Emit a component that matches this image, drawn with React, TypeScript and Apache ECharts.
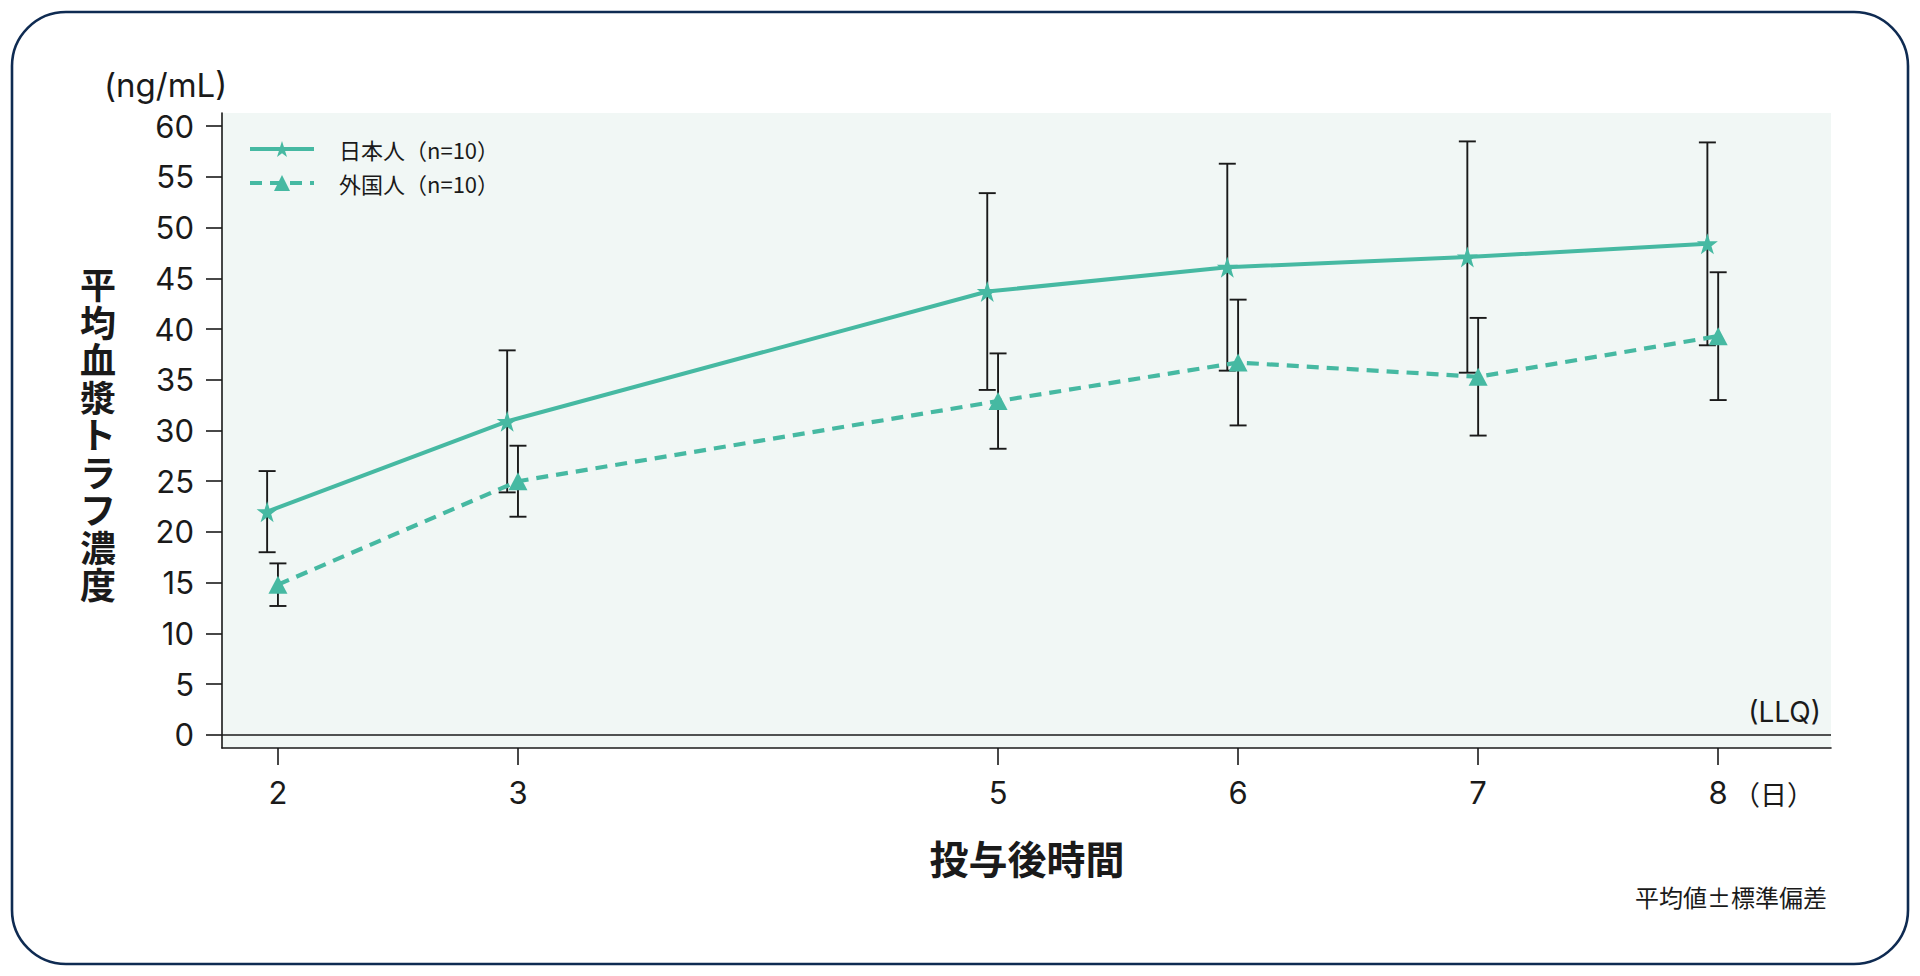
import React, { useEffect, useRef } from "react";
import * as echarts from "echarts";

// ---- data ----
const days = [2, 3, 5, 6, 7, 8];
const jpMean = [22.0, 30.9, 43.7, 46.1, 47.1, 48.4];
const jpSD = [4.0, 7.0, 9.7, 10.2, 11.4, 10.0];
const fgMean = [14.8, 25.0, 32.9, 36.7, 35.3, 39.3];
const fgSD = [2.1, 3.5, 4.7, 6.2, 5.8, 6.3];
const xTicks = [2, 3, 5, 6, 7, 8];
const yTicks = [0, 5, 10, 15, 20, 25, 30, 35, 40, 45, 50, 55, 60];
const seriesNames = ["日本人（n=10）", "外国人（n=10）"];
const yName = ["平", "均", "血", "漿", "ト", "ラ", "フ", "濃", "度"];

const TEAL = "#46b9a2";
const INK = "#1a1a1a";
const LATIN = "Inter, 'Noto Sans CJK JP', sans-serif";
const CJK = "'Noto Sans CJK JP', sans-serif";
const JP_SHIFT = -0.045;

function errorSeries(xs: number[], means: number[], sds: number[], z: number) {
  return {
    type: "custom",
    z,
    silent: true,
    data: xs.map((x, i) => [x, means[i] - sds[i], means[i] + sds[i]]),
    encode: { x: 0, y: [1, 2] },
    renderItem: (_p: any, api: any) => {
      const x = api.value(0);
      const top = api.coord([x, api.value(2)]);
      const bot = api.coord([x, api.value(1)]);
      const hw = 8.5;
      const st = { stroke: INK, lineWidth: 1.9 };
      return {
        type: "group",
        children: [
          { type: "line", shape: { x1: top[0], y1: top[1], x2: bot[0], y2: bot[1] }, style: st },
          { type: "line", shape: { x1: top[0] - hw, y1: top[1], x2: top[0] + hw, y2: top[1] }, style: st },
          { type: "line", shape: { x1: bot[0] - hw, y1: bot[1], x2: bot[0] + hw, y2: bot[1] }, style: st },
        ],
      };
    },
  };
}

export default function App() {
  const ref = useRef<HTMLDivElement>(null);
  useEffect(() => {
    if (!ref.current) return;
    const chart = echarts.init(ref.current, null, { renderer: "svg" });
    const jpX = days.map((d) => d + JP_SHIFT);
    const nameTexts = yName.map((ch, i) => ({
      type: "text",
      x: 98,
      y: 283 + i * 37.5,
      style: {
        text: ch,
        font: `bold 36px ${CJK}`,
        fill: INK,
        align: "center",
        verticalAlign: "middle",
      },
    }));
    const option: any = {
      animation: false,
      backgroundColor: "#ffffff",
      grid: {
        left: 222,
        right: 89,
        top: 113,
        bottom: 228,
        show: true,
        backgroundColor: "#f1f7f5",
        borderWidth: 0,
      },
      legend: {
        orient: "vertical",
        left: 243,
        top: 133,
        itemWidth: 64,
        itemHeight: 20,
        itemGap: 12,
        data: seriesNames,
        lineStyle: { width: 4 },
        textStyle: { fontFamily: CJK, fontSize: 22, color: INK, padding: [0, 0, 0, 20] },
      },
      xAxis: {
        type: "value",
        min: 1.767,
        max: 8.47,
        axisLine: { show: true, onZero: false, lineStyle: { color: INK, width: 1.6 } },
        axisTick: { show: true, customValues: xTicks, length: 17, lineStyle: { color: INK, width: 1.6 } },
        axisLabel: { customValues: xTicks, fontFamily: LATIN, fontSize: 31, color: INK, margin: 29 },
        splitLine: { show: false },
      },
      yAxis: {
        type: "value",
        min: -1.3,
        max: 61.3,
        axisLine: { show: true, lineStyle: { color: INK, width: 1.6 } },
        axisTick: { show: true, customValues: yTicks, length: 16, lineStyle: { color: INK, width: 1.6 } },
        axisLabel: { customValues: yTicks, fontFamily: LATIN, fontSize: 31, color: INK, margin: 28 },
        splitLine: { show: false },
      },
      graphic: [
        {
          type: "rect",
          z: 100,
          silent: true,
          shape: { x: 12, y: 12, width: 1896, height: 952, r: 54 },
          style: { fill: "none", stroke: "#0f2b52", lineWidth: 2.6 },
        },
        {
          type: "text",
          left: 104,
          top: 68,
          style: { text: "(ng/mL)", font: `33px ${LATIN}`, fill: INK },
        },
        ...nameTexts,
        {
          type: "text",
          x: 1027,
          y: 857,
          style: {
            text: "投与後時間",
            font: `bold 39px ${CJK}`,
            fill: INK,
            align: "center",
            verticalAlign: "middle",
          },
        },
        {
          type: "text",
          x: 1733,
          y: 793,
          style: { text: "（日）", font: `27px ${CJK}`, fill: INK, align: "left", verticalAlign: "middle" },
        },
        {
          type: "text",
          x: 1827,
          y: 896,
          style: { text: "平均値±標準偏差", font: `24px ${CJK}`, fill: INK, align: "right", verticalAlign: "middle" },
        },
      ],
      series: [
        errorSeries(jpX, jpMean, jpSD, 2),
        errorSeries(days, fgMean, fgSD, 2),
        {
          name: seriesNames[0],
          type: "line",
          z: 3,
          data: jpX.map((x, i) => [x, jpMean[i]]),
          symbol: "path://M50,0 L61.8,35.1 L98.9,35.1 L69,56.9 L80.4,92 L50,70.3 L19.6,92 L31,56.9 L1.1,35.1 L38.2,35.1 Z",
          symbolSize: 21,
          itemStyle: { color: TEAL },
          lineStyle: { color: TEAL, width: 4, type: "solid" },
          markLine: {
            silent: true,
            symbol: "none",
            data: [{ yAxis: 0 }],
            lineStyle: { color: INK, width: 1.6, type: "solid" },
            label: {
              show: true,
              position: "insideEndTop",
              formatter: "(LLQ)",
              fontFamily: LATIN,
              fontSize: 28,
              color: INK,
              distance: [10, 9],
            },
          },
        },
        {
          name: seriesNames[1],
          type: "line",
          z: 3,
          data: days.map((x, i) => [x, fgMean[i]]),
          symbol: "triangle",
          symbolSize: [19, 18],
          itemStyle: { color: TEAL },
          lineStyle: { color: TEAL, width: 4.2, type: [12, 8] },
        },
      ],
    };
    chart.setOption(option);
    return () => chart.dispose();
  }, []);
  return (
    <div
      ref={ref}
      style={{ position: "fixed", left: 0, top: 0, width: 1920, height: 976 }}
    />
  );
}
